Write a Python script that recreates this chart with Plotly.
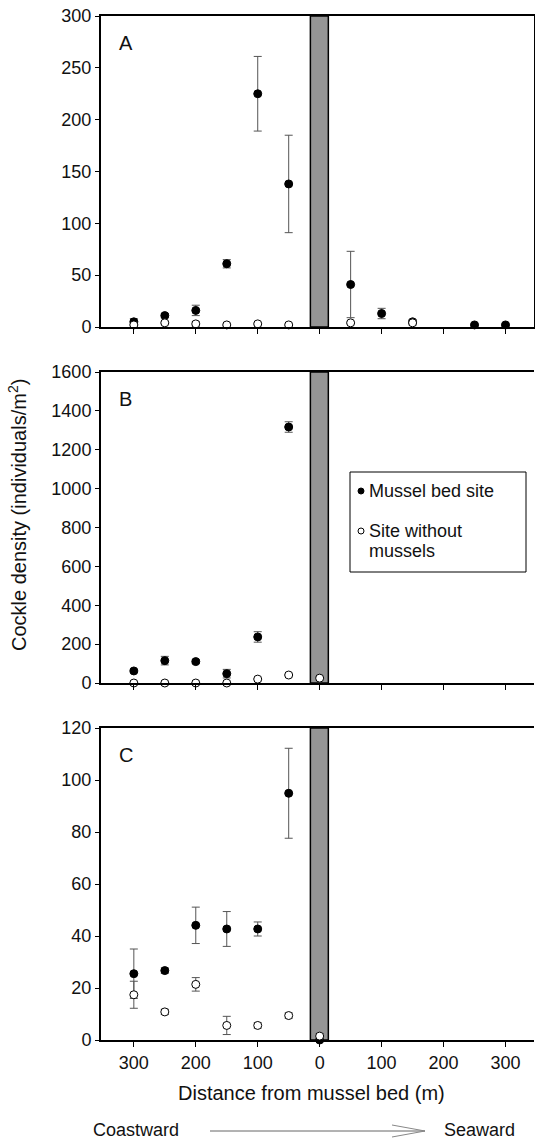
import plotly.graph_objects as go

W, H = 535, 1143


def px(x):
    return x / W


def py(y):
    return 1 - y / H


# Distance from mussel bed (m); negative = coastward, positive = seaward
distance = [-300, -250, -200, -150, -100, -50, 0, 50, 100, 150, 200, 250, 300]
tick_vals = [-300, -200, -100, 0, 100, 200, 300]
tick_text = ["300", "200", "100", "0", "100", "200", "300"]

# Panel A
a_mussel = [5, 11, 16, 61, 225, 138, None, 41, 13, 5, None, 2, 2]
a_mussel_err = [3, 2, 5, 4, 36, 47, 0, 32, 5, 2, 0, 1, 1]
a_open = [2, 4, 3, 2, 3, 2, None, 4, None, 4, None, None, None]
a_open_err = [1, 1, 2, 1, 1, 1, 0, 1, 0, 2, 0, 0, 0]

# Panel B
b_mussel = [62, 115, 110, 48, 237, 1317, None, None, None, None, None, None, None]
b_mussel_err = [8, 22, 10, 22, 27, 27, 0, 0, 0, 0, 0, 0, 0]
b_open = [0, 0, 0, 0, 20, 41, 25, None, None, None, None, None, None]
b_open_err = [0, 0, 0, 0, 3, 4, 8, 0, 0, 0, 0, 0, 0]

# Panel C
c_mussel = [25.5, 26.7, 44.1, 42.7, 42.7, 94.9, 0, None, None, None, None, None, None]
c_mussel_err = [9.5, 1, 7, 6.7, 2.7, 17.3, 0, 0, 0, 0, 0, 0, 0]
c_open = [17.4, 10.8, 21.4, 5.6, 5.6, 9.4, 1.5, None, None, None, None, None, None]
c_open_err = [5.2, 1, 2.6, 3.5, 1, 1, 1, 0, 0, 0, 0, 0, 0]

panels = [
    ("A", a_mussel, a_mussel_err, a_open, a_open_err, 300, 50, (16, 327)),
    ("B", b_mussel, b_mussel_err, b_open, b_open_err, 1600, 200, (372, 683)),
    ("C", c_mussel, c_mussel_err, c_open, c_open_err, 120, 20, (728, 1040)),
]

FONT = "Liberation Sans, Arial, sans-serif"
TXT = "#111111"
ERR = "#555555"

fig = go.Figure()
layout = dict(
    width=W, height=H,
    margin=dict(l=0, r=0, t=0, b=0, pad=0, autoexpand=False),
    paper_bgcolor="white", plot_bgcolor="white",
    showlegend=False,
    font=dict(family=FONT, size=18, color=TXT),
)
shapes = []
annotations = []

x_dom = [px(101), px(534)]
for i, (lab, m, me, o, oe, ymax, dt, (ptop, pbot)) in enumerate(panels):
    sfx = "" if i == 0 else str(i + 1)
    xa, ya = "x" + sfx, "y" + sfx
    fig.add_trace(go.Scatter(
        x=distance, y=m, mode="markers", xaxis=xa, yaxis=ya, cliponaxis=False,
        marker=dict(color="black", size=8, line=dict(color="black", width=1)),
        error_y=dict(type="data", array=me, color=ERR, thickness=1, width=4),
        name="Mussel bed site"))
    fig.add_trace(go.Scatter(
        x=distance, y=o, mode="markers", xaxis=xa, yaxis=ya, cliponaxis=False,
        marker=dict(color="white", size=8, line=dict(color="black", width=1)),
        error_y=dict(type="data", array=oe, color=ERR, thickness=1, width=4),
        name="Site without mussels"))
    layout["xaxis" + sfx] = dict(
        domain=x_dom, anchor=ya, range=[-353, 346], automargin=False,
        showline=True, linecolor="black", linewidth=2, mirror=True,
        ticks="outside", ticklen=5, tickwidth=1, tickcolor="black",
        tickvals=tick_vals, ticktext=tick_text, ticklabeloverflow="allow",
        showticklabels=(i == 2), showgrid=False, zeroline=False,
        tickfont=dict(family=FONT, size=18, color=TXT),
    )
    layout["yaxis" + sfx] = dict(
        domain=[py(pbot), py(ptop)], anchor=xa, range=[0, ymax], dtick=dt,
        automargin=False, ticklabeloverflow="allow",
        showline=True, linecolor="black", linewidth=2, mirror=(i == 0),
        ticks="outside", ticklen=4, tickwidth=1, tickcolor="black",
        showgrid=False, zeroline=False,
        tickfont=dict(family=FONT, size=18, color=TXT),
    )
    # mussel bed band
    shapes.append(dict(type="rect", xref=xa, yref=ya + " domain", x0=-15, x1=14, y0=0, y1=1,
                       fillcolor="#959595", line=dict(color="black", width=1.5), layer="below"))
    # panel letter
    annotations.append(dict(text=lab, xref="paper", yref="paper", x=px(117), y=py(ptop + 27),
                            xanchor="left", yanchor="middle", showarrow=False,
                            font=dict(family=FONT, size=20, color=TXT)))

# Legend (drawn box in panel B)
shapes.append(dict(type="rect", xref="paper", yref="paper", x0=px(350), x1=px(526),
                   y0=py(572), y1=py(472), line=dict(color="black", width=1),
                   fillcolor="white"))
r = 3
for cy, fill in [(491, "black"), (531, "white")]:
    shapes.append(dict(type="circle", xref="paper", yref="paper",
                       x0=px(361 - r), x1=px(361 + r), y0=py(cy + r), y1=py(cy - r),
                       fillcolor=fill, line=dict(color="black", width=1)))
for txt, cy in [("Mussel bed site", 491), ("Site without", 531), ("mussels", 551)]:
    annotations.append(dict(text=txt, xref="paper", yref="paper", x=px(367), y=py(cy),
                            xanchor="left", yanchor="middle", showarrow=False,
                            font=dict(family=FONT, size=18, color=TXT)))

# Axis titles
annotations.append(dict(text="Cockle density (individuals/m<sup>2</sup>)", xref="paper", yref="paper",
                        x=px(17), y=py(515), textangle=-90, showarrow=False,
                        xanchor="center", yanchor="middle", font=dict(family=FONT, size=20, color=TXT)))
annotations.append(dict(text="Distance from mussel bed (m)", xref="paper", yref="paper",
                        x=px(311), y=py(1093), showarrow=False,
                        xanchor="center", yanchor="middle", font=dict(family=FONT, size=20, color=TXT)))
annotations.append(dict(text="Coastward", xref="paper", yref="paper", x=px(91), y=py(1130),
                        showarrow=False, xanchor="left", yanchor="middle",
                        font=dict(family=FONT, size=18, color=TXT)))
annotations.append(dict(text="Seaward", xref="paper", yref="paper", x=px(442), y=py(1130),
                        showarrow=False, xanchor="left", yanchor="middle",
                        font=dict(family=FONT, size=18, color=TXT)))
# Arrow
shapes.append(dict(type="line", xref="paper", yref="paper", x0=px(210), x1=px(425),
                   y0=py(1131), y1=py(1131), line=dict(color="#666666", width=1)))
for dy in (-6, 6):
    shapes.append(dict(type="line", xref="paper", yref="paper", x0=px(392), x1=px(425),
                       y0=py(1131 + dy), y1=py(1131), line=dict(color="#888888", width=1)))

layout["shapes"] = shapes
layout["annotations"] = annotations
fig.update_layout(**layout)
fig.write_html(
    "out.html",
    config={"displayModeBar": False},
    post_script="document.body.style.margin='0px';document.body.style.padding='0px';"
                "document.documentElement.style.overflow='hidden';",
)
